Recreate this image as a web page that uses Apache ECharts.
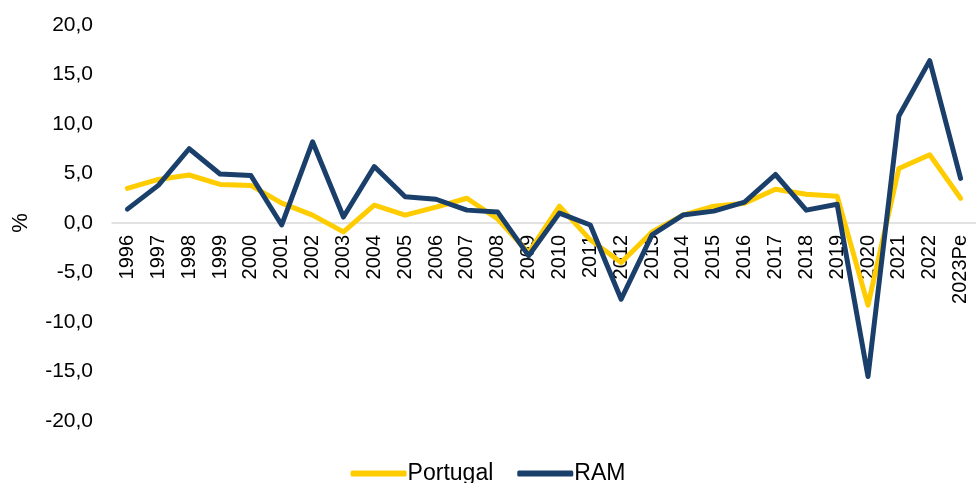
<!DOCTYPE html>
<html>
<head>
<meta charset="utf-8">
<script src="https://cdn.jsdelivr.net/npm/echarts@6/dist/echarts.min.js"></script>
<style>
html,body{margin:0;padding:0;background:#fff;}
#chart{width:976px;height:483px;}
</style>
</head>
<body>
<div id="chart"></div>
<script>
var categories = ['1996','1997','1998','1999','2000','2001','2002','2003','2004','2005','2006','2007','2008','2009','2010','2011','2012','2013','2014','2015','2016','2017','2018','2019','2020','2021','2022','2023Pe'];
var portugal = [3.5,4.4,4.85,3.9,3.8,2.0,0.8,-0.9,1.8,0.8,1.6,2.5,0.4,-3.0,1.7,-1.7,-4.0,-0.9,0.8,1.7,2.0,3.4,2.9,2.7,-8.3,5.5,6.9,2.5];
var ram = [1.4,3.8,7.5,4.95,4.8,-0.2,8.2,0.6,5.7,2.65,2.4,1.3,1.1,-3.3,1.0,-0.2,-7.7,-1.2,0.8,1.2,2.1,4.9,1.3,1.9,-15.5,10.8,16.4,4.5];

var chart = echarts.init(document.getElementById('chart'));
chart.setOption({
  animation: false,
  grid: {left: 112, right: 0, top: 25, bottom: 62, containLabel: false, outerBoundsMode: 'none'},
  legend: {
    bottom: -7, left: 'center',
    itemWidth: 56, itemHeight: 6, itemGap: 24,
    icon: 'roundRect',
    textStyle: {fontFamily: 'Liberation Sans, Arial', fontSize: 23, color: '#000', padding: [0,0,0,-4]},
    data: ['Portugal','RAM']
  },
  xAxis: {
    type: 'category',
    data: categories,
    boundaryGap: true,
    position: 'bottom',
    offset: -198,
    axisLine: {onZero: false, lineStyle: {color: '#d9d9d9', width: 1.5}},
    axisTick: {show: false},
    axisLabel: {rotate: 90, interval: 0, margin: 12, fontFamily: 'Liberation Sans, Arial', fontSize: 20, color: '#000'}
  },
  yAxis: {
    type: 'value',
    min: -20, max: 20, interval: 5,
    name: '%', nameLocation: 'middle', nameGap: 80, nameRotate: 90,
    nameTextStyle: {fontFamily: 'Liberation Sans, Arial', fontSize: 22, color: '#000'},
    splitLine: {show: false},
    axisLine: {show: false},
    axisTick: {show: false},
    axisLabel: {margin: 19, fontFamily: 'Liberation Sans, Arial', fontSize: 21, color: '#000',
      formatter: function(v){ return v.toFixed(1).replace('.', ','); }}
  },
  series: [
    {name: 'Portugal', type: 'line', data: portugal, symbol: 'none', smooth: false,
     lineStyle: {color: '#FFCC00', width: 5, cap: 'round', join: 'round'}, itemStyle: {color: '#FFCC00'}},
    {name: 'RAM', type: 'line', data: ram, symbol: 'none', smooth: false,
     lineStyle: {color: '#1B3F6B', width: 5, cap: 'round', join: 'round'}, itemStyle: {color: '#1B3F6B'}}
  ]
});
</script>
</body>
</html>
